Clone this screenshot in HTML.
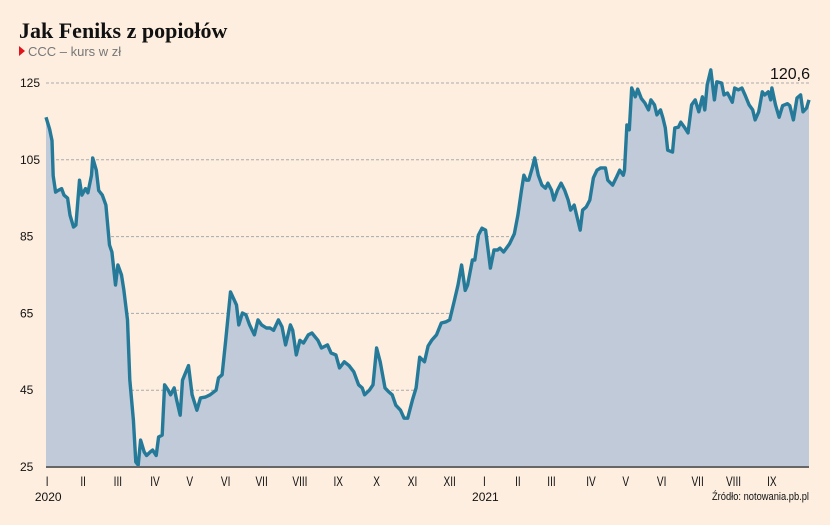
<!DOCTYPE html>
<html><head><meta charset="utf-8"><style>
body{margin:0;background:#fdeee0;width:830px;height:520px;overflow:hidden;font-family:"Liberation Sans",sans-serif}
</style></head><body>
<svg width="830" height="520" id="c">
<rect width="830" height="520" fill="#fdeee0"/>
<text x="19" y="38" font-family="Liberation Serif,serif" font-weight="bold" font-size="22" fill="#111">Jak Feniks z popiołów</text>
<polygon points="19,46 25,51 19,56" fill="#e3131b"/>
<text x="28" y="56" font-size="13" fill="#777">CCC – kurs w zł</text>
<g id="grid"></g><g id="series"></g><g id="axes"></g>
<text x="809" y="500" text-anchor="end" font-size="11" fill="#111" transform="translate(809 0) scale(0.85 1) translate(-809 0)">Źródło: notowania.pb.pl</text>
</svg>
<script>
const days=[0,3,5,6,8,10,13,15,18,20,23,25,28,30,33,35,38,39,42,44,47,50,53,55,58,60,63,65,68,70,73,75,77,79,82,84,87,89,92,94,97,99,102,104,107,109,112,114,119,122,126,129,133,137,142,144,147,150,154,159,161,164,167,170,174,177,180,184,187,190,194,197,200,202,204,206,209,212,215,219,222,227,230,235,238,242,245,249,253,257,261,264,266,270,273,276,279,283,286,289,292,296,299,302,306,309,312,316,319,322,326,330,334,337,341,344,347,350,352,356,358,361,364,367,371,374,377,379,382,387,391,394,397,399,401,403,406,408,411,414,417,419,422,424,427,430,433,436,438,441,443,446,448,451,454,457,460,463,467,469,473,476,479,482,483,485,487,489,492,494,497,500,503,505,508,510,513,515,517,519,523,525,528,530,533,536,539,542,545,548,550,552,555,558,560,564,566,569,573,575,578,581,584,587,590,592,595,598,600,603,605,606,609,612,615,619,621,624,627,630,632,635,637];
const prices=[116.1,113,110,100.8,96.6,97,97.5,95.8,95,90.6,87.5,88,99.7,95.8,97.5,96.4,101,105.5,102.3,97,95.8,93.2,82.8,81,72.4,77.6,75,71,63.3,47.7,37.2,26.3,25.5,32,28.9,28,28.9,29.4,28,32.8,33.3,46.4,45,43.8,45.6,42.5,38.5,47.6,51.4,43.8,39.8,43,43.2,43.8,45,48.2,49,58,70.6,67.2,62,65.1,64.6,62,59.4,63.3,62,61.2,61.2,60.6,63.3,61.5,56.8,59.4,62,60.6,54.2,58,57.3,59.4,59.9,58,56,56.8,54.7,54.2,50.8,52.4,51.4,49.8,46.4,45.6,43.8,45,46.4,56,52.4,45.6,44.6,43.8,41.1,39.8,37.7,37.7,42.5,45.6,53.6,52.4,56.5,58,59.4,62.5,62.8,63.3,68.5,72.4,77.6,71,72.4,78.9,78.9,85.4,87.2,86.7,76.8,81.5,81.5,82,81,83.1,85.7,90.6,97.1,101,99.7,99.7,102.9,105.5,101,98.4,97.6,98.9,97.1,94.5,97.1,98.9,97.1,94.5,91.9,93.2,90.6,86.7,91.9,92.7,94.5,100.3,102.3,102.9,102.9,99.7,98.4,100.3,102.3,101,102.3,114.1,112.8,123.7,121.4,123.4,121,119.8,118,120.6,119.3,116.7,118,115.9,113.3,107.5,107,113.3,113.5,114.8,113.5,112,119.3,120.6,117.5,121.4,118,124.5,128.4,120.6,125.3,125,121.9,122.4,120,123.7,123.2,123.7,121.6,119.3,118,115.4,117.5,122.7,121.9,122.7,120.6,123.7,119.3,116.1,119.1,119.6,119.1,115.4,121.1,121.9,117.5,118.5,120.6];
const yTicks=[25,45,65,85,105,125];
const monthLabels=["I","II","III","IV","V","VI","VII","VIII","IX","X","XI","XII","I","II","III","IV","V","VI","VII","VIII","IX"];
const monthDays=[1,31,60,91,120,150,180,212,244,276,306,337,366,394,422,455,484,514,544,574,606];
const yearLabels=["2020","2021"];
const yearDays=[1,366];
const lastLabel="120,6";
const X0=46,X1=809,Y0=467,Y1=83,D0=0,D1=637,V0=25,V1=125;
const xs=d=>X0+(d-D0)/(D1-D0)*(X1-X0);
const ys=v=>Y0-(v-V0)/(V1-V0)*(Y0-Y1);
const NS="http://www.w3.org/2000/svg";
function mk(tag,attrs,parent,txt){const e=document.createElementNS(NS,tag);for(const k in attrs)e.setAttribute(k,attrs[k]);if(txt!=null)e.textContent=txt;document.getElementById(parent).appendChild(e);return e;}
yTicks.forEach(v=>{
 if(v>V0){const l=mk('line',{x1:X0,x2:X1,y1:ys(v),y2:ys(v),stroke:'#aaa','stroke-width':1,'stroke-dasharray':'3,2'},'grid');
 
 }
 const t=mk('text',{x:20,y:ys(v)+4,'font-size':12,fill:'#111'},'axes',String(v));
 
 
});
let pts=days.map((d,i)=>xs(d).toFixed(1)+','+ys(prices[i]).toFixed(1));
const area=mk('path',{d:'M'+xs(days[0])+','+Y0+' L'+pts.join(' L')+' L'+xs(days[days.length-1])+','+Y0+'Z',fill:'#c0cad8'},'series');


const line=mk('path',{d:'M'+pts.join(' L'),fill:'none',stroke:'#257a99','stroke-width':3.4,'stroke-linejoin':'round'},'series');


const base=mk('line',{x1:X0,x2:X1,y1:Y0,y2:Y0,stroke:'#666','stroke-width':2},'axes');


monthLabels.forEach((m,i)=>{
 const t=mk('text',{x:xs(monthDays[i]),y:486,'text-anchor':'middle','font-size':14,fill:'#111',transform:`translate(${xs(monthDays[i])} 0) scale(0.72 1) translate(${-xs(monthDays[i])} 0)`},'axes',m);
 
 
});
yearLabels.forEach((y,i)=>{
 const t=mk('text',{x:xs(yearDays[i])+1,y:501,'text-anchor':'middle','font-size':12,fill:'#111'},'axes',y);
 
 
});
const lt=mk('text',{x:X1+1,y:ys(prices[prices.length-1])-21,'text-anchor':'end','font-size':16,fill:'#111'},'axes',lastLabel);


</script>
</body></html>
